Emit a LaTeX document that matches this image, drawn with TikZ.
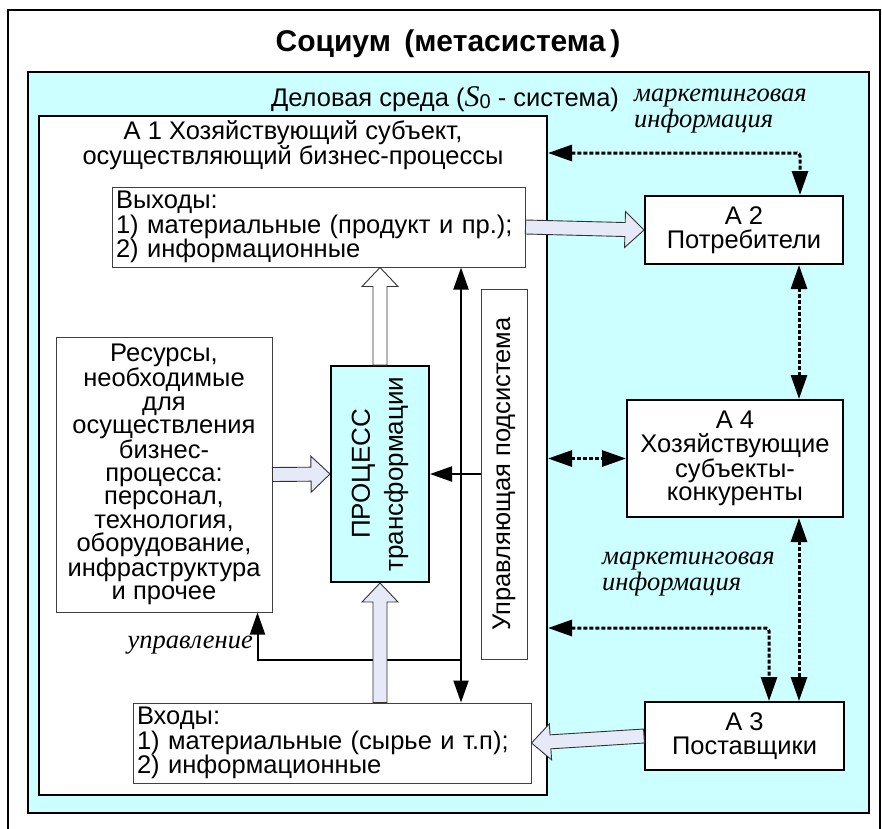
\documentclass[tikz,border=0pt]{standalone}
\usepackage{fontspec}
\setmainfont{Liberation Sans}
\newfontfamily\serifit{Liberation Serif}
\usetikzlibrary{arrows.meta,calc,positioning}

\definecolor{envcyan}{RGB}{204,255,255}
\definecolor{arrfill}{RGB}{230,233,247}

% wide hollow arrow: fill, from, to
\newcommand{\fatarrow}[3]{%
  \coordinate (fh) at ($(#3)!19pt!(#2)$);
  \draw[draw=black!80, line width=0.9pt, fill=#1]
    ($(#2)!7pt!90:(#3)$) -- ($(fh)!7pt!90:(#3)$) -- ($(fh)!18pt!90:(#3)$) -- (#3)
    -- ($(fh)!18pt!-90:(#3)$) -- ($(fh)!7pt!-90:(#3)$) -- ($(#2)!7pt!-90:(#3)$) -- cycle;}

\begin{document}
\begin{tikzpicture}[x=1pt, y=-1pt,
    box/.style={draw, line width=2pt, fill=white, align=center, inner sep=0pt, font=\fontsize{25.5}{23.5}\selectfont},
    thinbox/.style={draw=black!75, line width=1pt, fill=white, inner sep=0pt, font=\fontsize{25.5}{23.3}\selectfont},
    lbl/.style={font=\serifit\itshape\fontsize{26.5}{20}\selectfont, align=left, inner sep=0pt},
    arr/.style={line width=2pt, -{Triangle[length=22pt,width=15pt]}},
    arrboth/.style={line width=2pt, {Triangle[length=22pt,width=15pt]}-{Triangle[length=22pt,width=15pt]}},
    dotarr/.style={line width=3pt, dash pattern=on 4pt off 2pt, rounded corners=3pt,
      {Triangle[length=24pt,width=16pt]}-{Triangle[length=24pt,width=16pt]}}
  ]
  \useasboundingbox (0,0) rectangle (882,828);
  \fill[white] (0,0) rectangle (882,828);

  % socium
  \draw[line width=2pt] (8,840) -- (8,10) -- (880,10) -- (880,840);
  \node[font=\bfseries\fontsize{30}{30}\selectfont, anchor=base] (socium) at (448,51) {Социум\, (метасистема\,)};

  % business environment
  \node[box, fill=envcyan, minimum width=841, minimum height=741] (env) at (448.5,442.5) {};
  \node[font=\fontsize{25.5}{25}\selectfont, anchor=base] (envtitle) at (445,106)
    {Деловая среда ({\serifit\itshape\fontsize{30}{30}\selectfont S}\raisebox{-2pt}{\fontsize{20}{20}\selectfont 0} - система)};

  % A1
  \node[box, minimum width=508, minimum height=679] (a1) at (293,455.5) {};
  \node[font=\fontsize{25.5}{22.5}\selectfont, align=center] (a1title) at (293,145)
    {А 1 Хозяйствующий субъект,\\осуществляющий бизнес-процессы};
  \node[thinbox, minimum width=413, minimum height=80, text width=405, align=left] (outbox) at (318.5,227)
    {Выходы:\\1) материальные (продукт и пр.);\\2) информационные};
  \node[thinbox, minimum width=216, minimum height=275, align=center] (res) at (164,474.5)
    {Ресурсы,\\необходимые\\для\\осуществления\\бизнес-\\процесса:\\персонал,\\технология,\\оборудование,\\инфраструктура\\и прочее};
  \node[box, fill=envcyan, minimum width=98, minimum height=216] (proc) at (380,474) {};
  \node[rotate=90, align=center, font=\fontsize{26}{33}\selectfont] (proctext) at (proc.center) {ПРОЦЕСС\\трансформации};
  \node[thinbox, minimum width=46, minimum height=370] (ctrl) at (504,474) {};
  \node[rotate=90, font=\fontsize{25.5}{25}\selectfont] (ctrltext) at (ctrl.center) {Управляющая подсистема};
  \node[thinbox, minimum width=398, minimum height=80, text width=390, align=left] (inbox) at (332,743)
    {Входы:\\1) материальные (сырье и т.п);\\2) информационные};

  % A2, A4, A3
  \node[box, minimum width=198, minimum height=68] (a2) at (744,230) {А 2\\Потребители};
  \node[box, minimum width=216, minimum height=117] (a4) at (735,458.5) {А 4\\Хозяйствующие\\субъекты-\\конкуренты};
  \node[box, minimum width=199, minimum height=68] (a3) at (744.5,736) {А 3\\Поставщики};

  % control lines
  \coordinate (vx) at (461,0);
  \draw[arrboth] (outbox.south -| vx) -- (inbox.north -| vx);
  \draw[arr] (ctrl.west) -- (proc.east);
  \coordinate (uj) at (461,660);
  \draw[arr] (uj) -| ($(res.south east)+(-15,0)$);
  \node[lbl, anchor=base east] (upr) at (253,648) {управление};

  % flows
  \coordinate (po1) at (proc.north);
  \coordinate (po2) at (proc.north |- outbox.south);
  \fatarrow{white}{po1}{po2}
  \fatarrow{arrfill}{res.east}{proc.west}
  \coordinate (pi1) at (proc.south |- inbox.north);
  \fatarrow{arrfill}{pi1}{proc.south}
  \fatarrow{arrfill}{outbox.east}{a2.west}
  \fatarrow{arrfill}{a3.west}{inbox.east}

  % marketing information
  \coordinate (mk1) at (800,153);
  \coordinate (cx) at (799,0);
  \coordinate (mk2) at (769,628);
  \draw[dotarr] (a1.east |- mk1) -| (a2.north -| mk1);
  \draw[dotarr] (a2.south -| cx) -- (a4.north -| cx);
  \draw[dotarr] (a1.east |- a4.west) -- (a4.west);
  \draw[dotarr] (a4.south -| cx) -- (a3.north -| cx);
  \draw[dotarr] (a1.east |- mk2) -| (a3.north -| mk2);
  \node[lbl, anchor=base west] (mi1) at (634,127) {маркетинговая\\информация};
  \node[lbl, anchor=base west] (mi2) at (602,590) {маркетинговая\\информация};
\end{tikzpicture}
\end{document}
